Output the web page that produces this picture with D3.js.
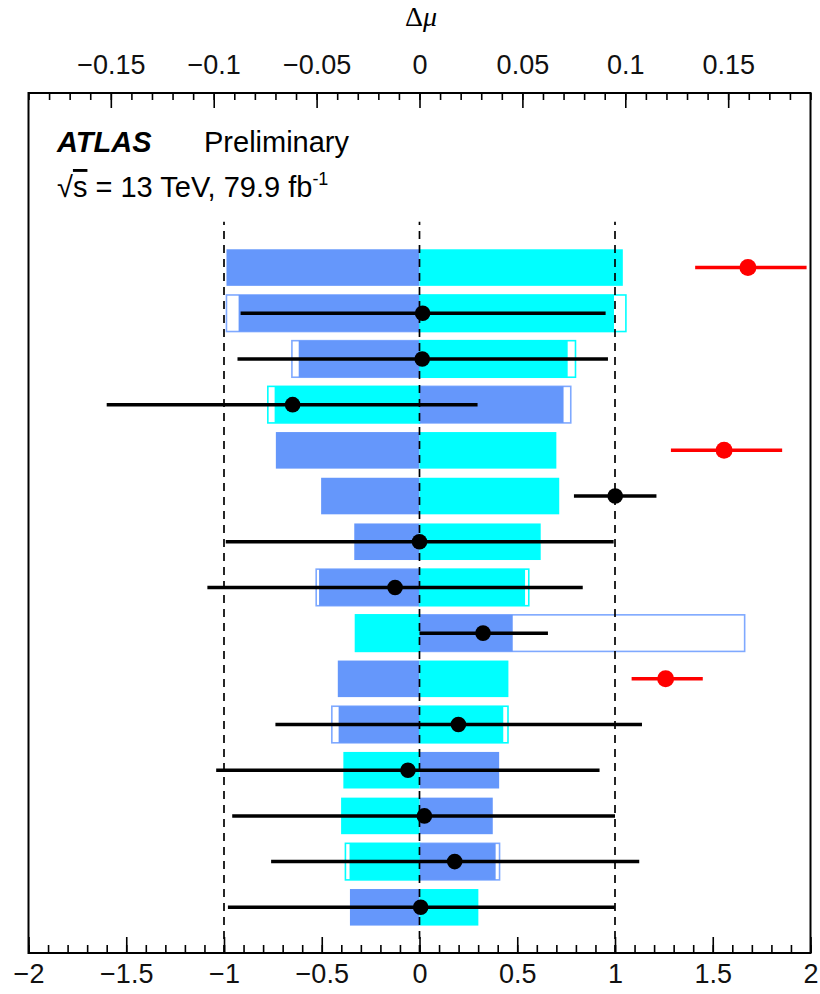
<!DOCTYPE html>
<html>
<head>
<meta charset="utf-8">
<script src="https://cdn.jsdelivr.net/npm/d3@7"></script>
<style>
  body { margin: 0; background: #fff; }
  svg text { font-family: "Liberation Sans", Arial, Helvetica, sans-serif; }
</style>
</head>
<body>
<div id="chart"></div>
<script>
// impact bars are in delta-mu (top axis), pulls are on the bottom axis

// post-fit impacts (filled): up = blue, down = cyan
var postUp   = [-0.0938, -0.0879, -0.0587,  0.0700, -0.0698, -0.0478, -0.0317, -0.0488,  0.0453, -0.0397, -0.0393,  0.0387,  0.0356,  0.0370, -0.0338];
var postDown = [ 0.0988,  0.0945,  0.0720, -0.0704,  0.0665,  0.0679,  0.0589,  0.0513, -0.0311,  0.0432,  0.0407, -0.0370, -0.0381, -0.0340,  0.0286];
// pre-fit impacts (hollow), null where none is drawn
var preUp    = [null, -0.0938, -0.0620,  0.0735, null, null, null, -0.0502,  0.1580, null, -0.0426, null, null,  0.0389, null];
var preDown  = [null,  0.1003,  0.0758, -0.0737, null, null, null,  0.0531, -0.0311, null,  0.0430, null, null, -0.0360, null];
// pulls / fitted values with errors
var pull     = [1.68,  0.016,  0.014, -0.649, 1.558, 1.001, 0.000, -0.125, 0.325, 1.259, 0.199, -0.059, 0.025, 0.180, 0.006];
var pullLo   = [1.41, -0.915, -0.931, -1.600, 1.286, 0.790, -0.991, -1.085, 0.000, 1.085, -0.737, -1.040, -0.958, -0.759, -0.980];
var pullHi   = [1.98,  0.952,  0.964,  0.297, 1.855, 1.212, 0.993, 0.835, 0.657, 1.449, 1.138, 0.921, 1.000, 1.124, 0.999];
var isNorm   = [true, false, false, false, true, false, false, false, false, true, false, false, false, false, false];

var bottomTicks = [-2, -1.5, -1, -0.5, 0, 0.5, 1, 1.5, 2];
var topTicks = [-0.15, -0.1, -0.05, 0, 0.05, 0.1, 0.15];
var refLines = [-1, 0, 1];

var width = 820, height = 994;
var frameL = 28.5, frameR = 810.5, frameT = 93, frameB = 953;

var svg = d3.select("#chart").append("svg")
    .attr("width", width)
    .attr("height", height);

var x = d3.scaleLinear().domain([-2, 2]).range([frameL, frameR]);
var xTop = d3.scaleLinear().domain([-0.19, 0.19]).range([frameL, frameR]);
var y = d3.scaleLinear().domain([0, 18.82]).range([frameB, frameT]);

var nRows = pull.length;
var rows = d3.range(nRows).map(function(i) {
    return {
        pos: nRows - i,
        postUp: postUp[i], postDown: postDown[i],
        preUp: preUp[i], preDown: preDown[i],
        pull: pull[i], lo: pullLo[i], hi: pullHi[i], norm: isNorm[i]
    };
});

var blue = "#6597fb", cyan = "#00ffff";
var barH = y(0) - y(0.8);

// hollow pre-fit boxes first
function hollow(key, color) {
    svg.append("g").selectAll("rect")
        .data(rows.filter(function(d) { return d[key] !== null; }))
        .enter().append("rect")
        .attr("x", function(d) { return Math.min(xTop(0), xTop(d[key])); })
        .attr("width", function(d) { return Math.abs(xTop(d[key]) - xTop(0)); })
        .attr("y", function(d) { return y(d.pos) - barH / 2; })
        .attr("height", barH)
        .style("fill", "#fff")
        .style("stroke", color)
        .style("stroke-width", 1.6);
}
hollow("preUp", "#7fa9ff");
hollow("preDown", cyan);

// filled post-fit bars
function filled(key, color) {
    svg.append("g").selectAll("rect")
        .data(rows)
        .enter().append("rect")
        .attr("x", function(d) { return Math.min(xTop(0), xTop(d[key])); })
        .attr("width", function(d) { return Math.abs(xTop(d[key]) - xTop(0)); })
        .attr("y", function(d) { return y(d.pos) - barH / 2; })
        .attr("height", barH)
        .style("fill", color);
}
filled("postUp", blue);
filled("postDown", cyan);

// dashed reference lines
svg.append("g").selectAll("line")
    .data(refLines)
    .enter().append("line")
    .attr("x1", function(d) { return x(d); })
    .attr("x2", function(d) { return x(d); })
    .attr("y1", y(0))
    .attr("y2", y(16))
    .style("stroke", "#000")
    .style("stroke-width", 1.7)
    .style("stroke-dasharray", "8,6");

// error bars and points
var pts = svg.append("g");
pts.selectAll("line")
    .data(rows)
    .enter().append("line")
    .attr("x1", function(d) { return x(d.lo); })
    .attr("x2", function(d) { return x(d.hi); })
    .attr("y1", function(d) { return y(d.pos); })
    .attr("y2", function(d) { return y(d.pos); })
    .style("stroke", function(d) { return d.norm ? "#ff0000" : "#000"; })
    .style("stroke-width", 3.5);
pts.selectAll("circle")
    .data(rows)
    .enter().append("circle")
    .attr("cx", function(d) { return x(d.pull); })
    .attr("cy", function(d) { return y(d.pos); })
    .attr("r", function(d) { return d.norm ? 8.5 : 7.8; })
    .style("fill", function(d) { return d.norm ? "#ff0000" : "#000"; });

// axes
function fmt(d) { return String(d).replace("-", "\u2212"); }

var minorBottom = d3.range(-20, 21).map(function(d) { return d / 10; });
svg.append("g")
    .attr("transform", "translate(0," + frameB + ")")
    .call(d3.axisBottom(x).tickValues(minorBottom).tickSize(-8).tickFormat(""))
    .call(function(g) { g.select(".domain").remove(); });
var bAxis = svg.append("g")
    .attr("transform", "translate(0," + frameB + ")")
    .call(d3.axisBottom(x).tickValues(bottomTicks).tickSize(-16).tickPadding(11).tickFormat(fmt));
bAxis.select(".domain").remove();

var minorTop = d3.range(-19, 20).map(function(d) { return d / 100; });
svg.append("g")
    .attr("transform", "translate(0," + frameT + ")")
    .call(d3.axisTop(xTop).tickValues(minorTop).tickSize(-7).tickFormat(""))
    .call(function(g) { g.select(".domain").remove(); });
var tAxis = svg.append("g")
    .attr("transform", "translate(0," + frameT + ")")
    .call(d3.axisTop(xTop).tickValues(topTicks).tickSize(-15).tickPadding(19).tickFormat(fmt));
tAxis.select(".domain").remove();

svg.selectAll(".tick line").style("stroke", "#000").style("stroke-width", 1.6);
svg.selectAll(".tick text")
    .style("font-family", "'Liberation Sans', Arial, sans-serif")
    .style("font-size", "27px")
    .style("fill", "#111");

// frame
svg.append("rect")
    .attr("x", frameL).attr("y", frameT)
    .attr("width", frameR - frameL).attr("height", frameB - frameT)
    .style("fill", "none")
    .style("stroke", "#000")
    .style("stroke-width", 2);

// top axis title
var ttl = svg.append("text")
    .attr("x", 421).attr("y", 26)
    .attr("text-anchor", "middle")
    .style("font-family", "'Liberation Serif', 'DejaVu Serif', serif")
    .style("font-size", "28px");
ttl.append("tspan").text("\u0394");
ttl.append("tspan").style("font-style", "italic").style("font-family", "'Liberation Serif', serif").text("\u03bc");

// labels
svg.append("text")
    .attr("x", 57).attr("y", 152)
    .style("font-size", "29px")
    .style("font-weight", "bold")
    .style("font-style", "italic")
    .text("ATLAS");
svg.append("text")
    .attr("x", 204).attr("y", 152)
    .style("font-size", "29px")
    .text("Preliminary");
var lumi = svg.append("text")
    .attr("x", 57).attr("y", 197)
    .style("font-size", "29px");
lumi.append("tspan").text("\u221a");
lumi.append("tspan").style("text-decoration", "overline").text("s");
lumi.append("tspan").text(" = 13 TeV, 79.9 fb");
lumi.append("tspan").attr("dy", -12).style("font-size", "18px").text("-1");
</script>
</body>
</html>
